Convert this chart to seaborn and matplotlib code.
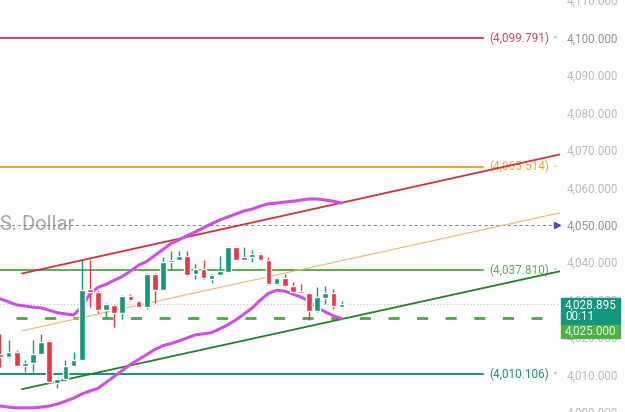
import numpy as np
import pandas as pd
import matplotlib
matplotlib.use("Agg")
import matplotlib.pyplot as plt
from matplotlib.patches import Rectangle
import seaborn as sns

# ==============================
# Data
# ==============================

opens = [4015.6, 4014.8, 4015.9, 4012.4, 4013.0, 4015.6, 4019.0, 4007.7, 4008.7, 4012.2,
         4014.0, 4032.8, 4032.0, 4027.3, 4028.6, 4026.5, 4031.0, 4029.6, 4028.0, 4036.8,
         4032.5, 4040.2, 4040.7, 4041.8, 4036.8, 4038.1, 4035.5, 4036.5, 4037.3, 4044.2,
         4040.7, 4041.3, 4042.3, 4040.7, 4034.1, 4035.7, 4033.6, 4032.3, 4031.7, 4027.0,
         4030.4, 4031.7, 4028.0]
highs = [4020.9, 4019.3, 4016.5, 4014.0, 4019.3, 4020.9, 4019.3, 4009.2, 4013.8, 4015.9,
         4040.7, 4040.5, 4032.5, 4029.2, 4028.8, 4031.3, 4031.5, 4029.9, 4037.0, 4037.0,
         4041.5, 4043.1, 4043.1, 4043.1, 4039.4, 4040.5, 4036.8, 4041.8, 4044.4, 4044.4,
         4044.2, 4043.4, 4042.6, 4041.5, 4036.0, 4036.8, 4034.6, 4034.1, 4032.0, 4033.3,
         4033.6, 4032.8, 4029.6]
lows = [4012.0, 4014.3, 4012.0, 4010.6, 4010.6, 4015.6, 4007.7, 4006.3, 4008.2, 4012.2,
        4014.0, 4028.0, 4026.5, 4025.4, 4022.8, 4024.9, 4029.6, 4027.8, 4027.5, 4029.1,
        4032.5, 4037.8, 4040.5, 4036.3, 4035.5, 4035.5, 4034.4, 4036.3, 4037.0, 4040.5,
        4040.5, 4040.0, 4040.5, 4034.0, 4034.0, 4033.4, 4031.8, 4031.5, 4024.6, 4026.8,
        4028.8, 4027.5, 4027.8]
closes = [4014.8, 4016.1, 4012.4, 4013.2, 4015.6, 4018.8, 4007.9, 4008.7, 4012.4, 4014.0,
          4032.5, 4032.0, 4027.3, 4028.8, 4026.5, 4031.0, 4029.9, 4028.0, 4036.8, 4032.5,
          4040.2, 4040.7, 4041.8, 4036.5, 4038.1, 4035.7, 4036.5, 4037.6, 4044.2, 4040.7,
          4041.3, 4042.3, 4040.7, 4034.1, 4035.7, 4033.6, 4032.0, 4031.7, 4027.0, 4030.7,
          4031.7, 4028.3, 4028.9]

band_upper = [4030.2, 4029.4, 4028.6, 4028.3, 4028.0, 4027.8, 4027.2, 4026.5, 4026.2, 4025.9,
              4028.0, 4031.5, 4033.3, 4034.1, 4035.2, 4036.2, 4037.6, 4039.2, 4040.2, 4041.8,
              4043.4, 4045.0, 4046.0, 4047.1, 4048.1, 4049.2, 4050.3, 4051.3, 4052.1, 4052.9,
              4053.7, 4054.2, 4055.0, 4055.6, 4055.8, 4056.1, 4056.3, 4056.6, 4056.9, 4056.9,
              4056.6, 4056.3, 4055.8]
band_lower = [4001.6, 4001.3, 4001.1, 4001.1, 4001.1, 4001.3, 4001.6, 4002.1, 4002.9, 4003.7,
              4004.8, 4005.6, 4006.3, 4007.9, 4009.5, 4011.1, 4012.7, 4014.0, 4015.3, 4016.7,
              4017.7, 4018.3, 4019.0, 4019.8, 4020.6, 4020.9, 4021.2, 4022.2, 4023.3, 4024.6,
              4026.2, 4027.8, 4029.9, 4031.7, 4032.5, 4032.3, 4031.5, 4030.7, 4029.6, 4028.0,
              4026.7, 4025.7, 4024.9]

# horizontal levels
levels = [4099.791, 4065.514, 4037.810, 4010.106]
level_labels = ["(4,099.791)", "(4,065.514)", "(4,037.810)", "(4,010.106)"]
level_colors = ["#d8405f", "#f2a22e", "#5cae52", "#17917a"]

# trend lines (x in bar index, y in price)
trend_x = [2.65, 68.9]
red_trend = [4037.0, 4068.8]
tan_trend = [4021.7, 4053.2]
green_trend = [4006.1, 4037.6]

dashed_level = 4025.0
arrow_level = 4050.0
last_price = 4028.895

ticks = np.arange(4000, 4111, 10)

df = pd.DataFrame({"open": opens, "high": highs, "low": lows, "close": closes})
df["idx"] = np.arange(len(df))
df["up"] = df["close"] >= df["open"]

# ==============================
# Figure
# ==============================

sns.set_theme(style="white")
plt.rcParams["font.family"] = ["Roboto", "DejaVu Sans"]

W, H = 625, 412
fig = plt.figure(figsize=(W / 100, H / 100), dpi=100)
ax = fig.add_axes([0, 0, 560 / W, 1])
ax.set_xlim(-0.06, 68.9)
ax.set_ylim(4001.06, 4110.05)
for s in ax.spines.values():
    s.set_visible(False)

ytr = ax.get_yaxis_transform()

# level lines + labels
for lv, lab, c in zip(levels, level_labels, level_colors):
    ax.axhline(lv, xmin=0, xmax=483 / 560, color=c, lw=1.4, zorder=2)
    ax.text(489 / 560, lv, lab, color=c, fontsize=8.5, va="center", ha="left", transform=ytr)
    ax.text(555 / 560, lv, "•", color=c, fontsize=6, va="center", ha="center", transform=ytr)

# watermark + 4050 arrow line
ax.text(0, arrow_level, "S. Dollar", color="#a3a6ad", fontsize=14.5, va="center", ha="left",
        transform=ytr, zorder=1)
ax.axhline(arrow_level, xmin=0, xmax=556 / 560, color="#7d7f99", lw=0.7,
           linestyle=(0, (3, 3)), zorder=1)
ax.plot([557 / 560], [arrow_level], marker=">", color="#4a47c9", markersize=4.5,
        transform=ytr, clip_on=False)

# last price dotted + dashed 4025
ax.axhline(last_price, color="#b9bcc3", lw=0.8, linestyle=(0, (1, 2)), zorder=1)
ax.axhline(dashed_level, xmin=16 / 560, xmax=1, color="#4ea64b", lw=2,
           linestyle=(0, (4, 6.3)), zorder=2)

# trend lines
ax.plot(trend_x, red_trend, color="#d4313b", lw=1.3, zorder=3)
ax.plot(trend_x, tan_trend, color="#efb46a", lw=0.8, zorder=3)
ax.plot(trend_x, green_trend, color="#22802d", lw=1.3, zorder=3)

# bands
sns.lineplot(x=df["idx"], y=band_upper, color="#cf4ee6", lw=2.2, ax=ax, zorder=4)
sns.lineplot(x=df["idx"], y=band_lower, color="#cf4ee6", lw=2.2, ax=ax, zorder=4)

# candles
up_c, dn_c = "#14977a", "#ee3445"
colors = np.where(df["up"], up_c, dn_c)
ax.vlines(df["idx"], df["low"], df["high"], colors=colors, lw=1, zorder=5)
body_lo = np.minimum(df["open"], df["close"])
body_h = np.maximum(np.abs(df["close"] - df["open"]), 0.3)
ax.bar(df["idx"], body_h, bottom=body_lo, width=0.7, color=colors, zorder=6)

ax.set_xticks([])
ax.set_xlabel("")
ax.set_ylabel("")

# right price scale
ax.yaxis.tick_right()
ax.set_yticks(ticks)
ax.set_yticklabels([f"{t:,.3f}" for t in ticks])
ax.tick_params(axis="y", length=0, pad=5, labelsize=8.5, labelcolor="#b7bac1")
for t, lab in zip(ticks, ax.get_yticklabels()):
    if t in (4100, 4050):
        lab.set_color("#8e919a")

# price tags
fig.add_artist(Rectangle((561 / W, 1 - 325 / H), 59 / W, 27 / H, transform=fig.transFigure,
                         color="#11977d", zorder=5))
fig.add_artist(Rectangle((561 / W, 1 - 338 / H), 59 / W, 13 / H, transform=fig.transFigure,
                         color="#4fae48", zorder=5))
fig.text(565 / W, 1 - 305 / H, "4,028.895", color="white", fontsize=8.5, va="center", zorder=6)
fig.text(565 / W, 1 - 317 / H, "00:11", color="white", fontsize=8.5, va="center", zorder=6)
fig.text(565 / W, 1 - 331.5 / H, "4,025.000", color="#f1f8e9", fontsize=8.5, va="center", zorder=6)

fig.savefig("out.png", dpi=100)
